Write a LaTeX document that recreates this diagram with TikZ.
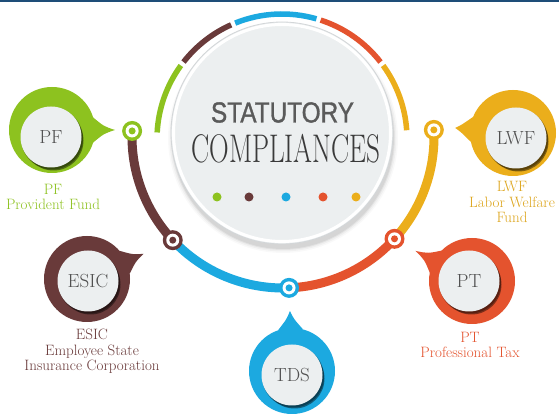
\documentclass[tikz,border=0pt]{standalone}
\usepackage{fontspec}
\usepackage{graphicx}
\newfontfamily\headsans[FakeBold=1.2]{Liberation Sans}
\newcommand\serifface{\rmfamily}

\definecolor{navy}{HTML}{1E4D78}
\definecolor{cgreen}{HTML}{8DC21F}
\definecolor{cbrown}{HTML}{693A3A}
\definecolor{cblue}{HTML}{1CA9E0}
\definecolor{cred}{HTML}{E4532E}
\definecolor{cyellow}{HTML}{EBAE1B}
\definecolor{goldtext}{HTML}{DDA51C}
\definecolor{discgray}{HTML}{ECEFF0}
\definecolor{rimgray}{HTML}{D3D6D8}
\definecolor{titlegray}{HTML}{5A5A5A}
\definecolor{titledark}{HTML}{3A3A3A}
\definecolor{textgray}{HTML}{505050}

% a stop on the track: outer ring, white gap, centre dot
\newcommand\trackstop[2]{%
  \fill[#2] (#1) circle (10);
  \fill[white] (#1) circle (6.5);
  \fill[#2] (#1) circle (3.5);
}

% a pin-shaped badge: #1 name, #2 outer centre, #3 inner centre,
% #4 tail direction, #5 tail length, #6 colour, #7 text
\newcommand\badge[7]{%
  \coordinate (#1o) at #2;
  \coordinate (#1i) at #3;
  \begin{scope}[shift={#2}]
    \fill[#6] ({#4+17}:43) .. controls ({#4+4}:52) .. ({#4}:#5)
              .. controls ({#4-4}:52) .. ({#4-17}:43) -- cycle;
  \end{scope}
  \fill[#6] (#1o) circle (43);
  \fill[black,opacity=.30] (#1i) ++(1,-1.5) circle (31);
  \fill[black,opacity=.45] (#1i) ++(2.5,-3.5) circle (30);
  \fill[discgray] (#1i) circle (30.5);
  \node[badgetext] (#1) at (#1i) {#7};
}

\begin{document}
\begin{tikzpicture}[x=1pt,y=1pt,
  ring/.style={line width=5.5pt},
  track/.style={line width=9pt},
  caption/.style={align=center, inner sep=0pt,
    font=\serifface\fontsize{15}{15.5}\selectfont},
  badgetext/.style={inner sep=0pt, text=textgray,
    font=\serifface\fontsize{19}{19}\selectfont},
]
\useasboundingbox (0,0) rectangle (559,414);
\fill[white] (0,0) rectangle (559,414);
\fill[navy] (0,411.5) rectangle (559,414);

\coordinate (O) at (283,277);   % centre of the track
\coordinate (R) at (282,275);   % centre of the thin ring
\coordinate (G) at (282,281);   % centre of the title disc

% thin coloured ring above the disc
\draw[ring,cgreen]  (R) ++(177:125) arc[start angle=177, end angle=144, radius=125];
\draw[ring,cbrown]  (R) ++(142:125) arc[start angle=142, end angle=114, radius=125];
\draw[ring,cblue]   (R) ++(112:125) arc[start angle=112, end angle=74,  radius=125];
\draw[ring,cred]    (R) ++(72:125)  arc[start angle=72,  end angle=38,  radius=125];
\draw[ring,cyellow] (R) ++(36:125)  arc[start angle=36,  end angle=4,   radius=125];

% title disc with soft shadow
\foreach \r/\o in {115/.025,113.5/.035,112/.05,111/.06}
  \fill[black,opacity=\o] (283,276) circle (\r);
\fill[discgray] (G) circle (111);
\draw[white,line width=3pt] (G) circle (108.5);
\draw[rimgray,line width=.8pt] (G) circle (111);

\node[inner sep=0pt, text=titlegray, font=\headsans\fontsize{29}{29}\selectfont]
  (title1) at (282.5,301.5) {\scalebox{0.84}[1]{STATUTORY}};
\node[inner sep=0pt, text=titledark, font=\serifface\fontsize{40}{40}\selectfont]
  (title2) at (286,265.5) {\scalebox{0.68}[1]{COMPLIANCES}};

\foreach \x/\c in {217/cgreen,249/cbrown,286/cblue,323/cred,356/cyellow}
  \fill[\c] (\x,217) circle (4.5);

% stops on the track
\path (O) ++(177.7:151) coordinate (sPF);
\path (O) ++(223.1:151) coordinate (sESIC);
\path (O) ++(272.3:151) coordinate (sTDS);
\path (O) ++(317.6:151) coordinate (sPT);
\path (O) ++(362.7:151) coordinate (sLWF);

\draw[track,cbrown]  (sPF)   arc[start angle=177.7, end angle=223.1, radius=151];
\draw[track,cblue]   (sESIC) arc[start angle=223.1, end angle=272.3, radius=151];
\draw[track,cred]    (sTDS)  arc[start angle=272.3, end angle=317.6, radius=151];
\draw[track,cyellow] (sPT)   arc[start angle=317.6, end angle=362.7, radius=151];

\trackstop{sPF}{cgreen}
\trackstop{sESIC}{cbrown}
\trackstop{sTDS}{cblue}
\trackstop{sPT}{cred}
\trackstop{sLWF}{cyellow}

% badges
\badge{PF}{(52,284)}{(51,277)}{0}{63}{cgreen}{PF}
\badge{LWF}{(513,281)}{(516,276)}{175}{58}{cyellow}{LWF}
\badge{ESIC}{(87,135)}{(88,133)}{24}{62}{cbrown}{ESIC}
\badge{TDS}{(292,43)}{(292,39)}{92}{60}{cblue}{TDS}
\badge{PT}{(472,133)}{(469,133)}{152}{64}{cred}{PT}

% captions
\node[caption, text=cgreen]   (capPF)   at (53,217)   {PF\\Provident Fund};
\node[caption, text=goldtext] (capLWF)  at (512,212)  {LWF\\Labor Welfare\\Fund};
\node[caption, text=cbrown]   (capESIC) at (92,62.5)  {ESIC\\Employee State\\Insurance Corporation};
\node[caption, text=cred]     (capPT)   at (470,69)   {PT\\Professional Tax};
\end{tikzpicture}
\end{document}
